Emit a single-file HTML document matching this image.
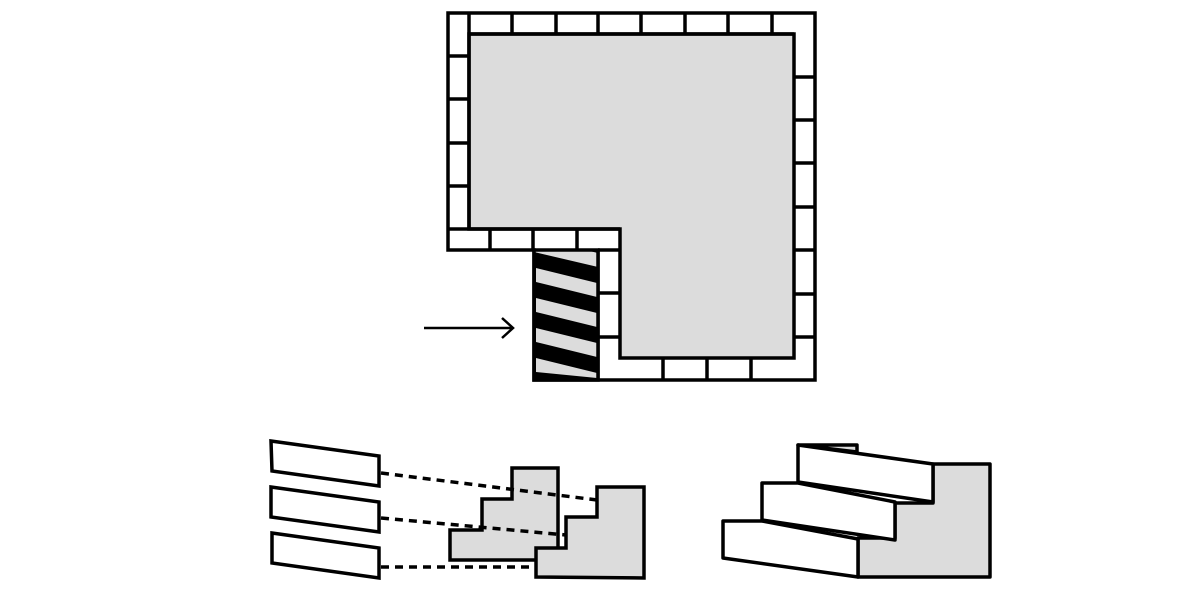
<!DOCTYPE html>
<html><head><meta charset="utf-8"><style>html,body{margin:0;padding:0;background:#fff}svg{display:block}</style></head>
<body>
<svg width="1200" height="600" viewBox="0 0 1200 600" xmlns="http://www.w3.org/2000/svg">
<g stroke="#000" stroke-width="3.5" stroke-linejoin="miter">
<polygon points="448,13 815,13 815,380 620,380 620,250 448,250" fill="#fff" stroke="none"/>
<polygon points="469,34 794,34 794,358 620,358 620,229 469,229" fill="#dcdcdc"/>
<rect x="534" y="250" width="64" height="130" fill="#000"/>
<g fill="#dcdcdc" stroke="none">
<polygon points="534,238 598,253 598,267 534,252"/>
<polygon points="536,268 597,283 597,297 536,282"/>
<polygon points="536,298 597,313 597,327 536,312"/>
<polygon points="536,328 597,343 597,357 536,342"/>
<polygon points="536,358 597,373 597,378 536,372"/>
</g>
<polygon points="534,250 534,236 598,236 598,250" fill="#fff" stroke="none"/>
<polygon points="448,13 815,13 815,380 534,380 534,250 448,250" fill="none"/>
<line x1="469" y1="34" x2="469" y2="229"/>
<line x1="469" y1="34" x2="794" y2="34"/>
<line x1="448" y1="229" x2="620" y2="229"/>
<line x1="534" y1="250" x2="620" y2="250"/>
<line x1="598" y1="250" x2="598" y2="380"/>
<path d="M469,13V34M512,13V34M556,13V34M598,13V34M641,13V34M685,13V34M728,13V34M772,13V34" fill="none"/>
<path d="M448,56H469M448,99H469M448,143H469M448,186H469" fill="none"/>
<path d="M490,229V250M533,229V250M577,229V250" fill="none"/>
<path d="M794,77H815M794,120H815M794,163H815M794,207H815M794,250H815M794,294H815M794,337H815" fill="none"/>
<path d="M663,358V380M707,358V380M751,358V380" fill="none"/>
<path d="M598,293H620M598,337H620" fill="none"/>
</g>
<g stroke="#000" stroke-width="2.5" fill="none">
<line x1="424" y1="328" x2="513" y2="328"/>
<polyline points="502,318 513,328 502,338"/>
</g>
<g stroke="#000" stroke-width="3.5" stroke-linejoin="miter">
<polygon points="271,441 379,456 379,486 272,471" fill="#fff"/>
<polygon points="271,487 379,502 379,532 271,517" fill="#fff"/>
<polygon points="272,533 379,548 379,578 272,563" fill="#fff"/>
<polygon points="450,530 482,530 482,499 512,499 512,468 558,468 558,560 450,560" fill="#dcdcdc"/>
<g stroke-dasharray="8,6" fill="none">
<line x1="381" y1="473" x2="597" y2="500"/>
<line x1="381" y1="518" x2="566" y2="535"/>
<line x1="381" y1="567" x2="536" y2="567"/>
</g>
<polygon points="597,487 644,487 644,578 536,577 536,548 566,548 566,517 597,517" fill="#dcdcdc"/>
</g>
<g stroke="#000" stroke-width="3.5" stroke-linejoin="round">
<polygon points="933,464 990,464 990,577 858,577 858,538 895,538 895,503 933,503" fill="#dcdcdc"/>
<polygon points="798,445 857,445 857,452" fill="#dcdcdc"/>
<polygon points="798,445 933,464 933,502 798,482" fill="#fff"/>
<polygon points="762,483 798,483 895,502 895,540 762,520" fill="#fff"/>
<polygon points="723,521 762,521 858,539 858,577 723,558" fill="#fff"/>
</g>
</svg>
</body></html>
